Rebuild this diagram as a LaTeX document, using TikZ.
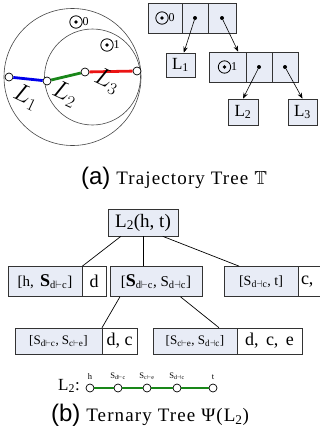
\documentclass[tikz,border=0pt]{standalone}
\usepackage{fontspec}
\usepackage{amssymb}
\setmainfont{Liberation Serif}
\setsansfont{Liberation Sans}
\usetikzlibrary{arrows.meta}

\definecolor{cellfill}{RGB}{232,236,246}
\definecolor{segblue}{RGB}{0,0,235}
\definecolor{seggreen}{RGB}{25,135,25}
\definecolor{segred}{RGB}{235,20,20}
\definecolor{ringgray}{RGB}{70,70,70}

\newcommand{\fsz}[1]{\fontsize{#1}{#1}\selectfont}
\newcommand{\sph}[1]{\tikz[baseline=-3.8pt]{\draw[line width=0.8pt] (0,0) circle (6.2pt); \fill (0,0) circle (1.8pt);}{\fsz{12}#1}}
\newcommand{\Sdl}{S\textsubscript{d$\vdash$c}}
\newcommand{\Sdr}{S\textsubscript{d$\dashv$c}}
\newcommand{\Sce}{S\textsubscript{c$\vdash$e}}
\newcommand{\bSdl}{{\bfseries\fsz{18}S}\textsubscript{d$\vdash$c}}

\begin{document}
\begin{tikzpicture}[x=1pt, y=-1pt,
  ring/.style={draw=ringgray, line width=0.6pt},
  seg/.style={line width=2.8pt},
  knot/.style={circle, draw=black, fill=white, line width=0.7pt, inner sep=0pt, minimum size=8pt},
  cell/.style={draw=black!80, fill=cellfill, line width=0.6pt, inner sep=0pt},
  wcell/.style={draw=black!80, fill=white, line width=0.6pt, inner sep=0pt},
  dotmark/.style={circle, fill=black, inner sep=0pt, minimum size=4pt},
  ptr/.style={-{Stealth[length=6pt,width=4.5pt]}, line width=0.6pt},
  link/.style={line width=0.7pt},
  caption/.style={font=\fsz{19}\addfontfeature{LetterSpace=6}}]
  \clip (0,0) rectangle (320,434);

  % (a) trajectory on two circles
  \draw[ring] (72.5,77) circle (68.5);
  \draw[ring] (92.5,77) circle (48);
  \node[knot] (p0) at (9,77) {};
  \node[knot] (p1) at (47,81) {};
  \node[knot] (p2) at (85,72) {};
  \node[knot] (p3) at (137,71) {};
  \draw[seg, segblue] (p0) -- (p1);
  \draw[seg, seggreen] (p1) -- (p2);
  \draw[seg, segred] (p2) -- (p3);
  \node[rotate=-25] (lab1) at (26,97) {\fsz{24}$L_1$};
  \node[rotate=-25] (lab2) at (65,94) {\fsz{24}$L_2$};
  \node[rotate=-25] (lab3) at (107,81) {\fsz{24}$L_3$};
  \node (c0) at (79,22) {\sph{0}};
  \node (c1) at (110,45) {\sph{1}};

  % (a) tree of records
  \node[cell, minimum width=34, minimum height=30] (r0a) at (165,18) {\sph{0}};
  \node[cell, minimum width=26, minimum height=30] (r0b) at (195,18) {};
  \node[cell, minimum width=28, minimum height=30] (r0c) at (222,18) {};
  \node[cell, minimum width=29, minimum height=24] (leaf1) at (180.5,65) {\fsz{17}L\textsubscript{1}};
  \node[cell, minimum width=37, minimum height=30] (r1a) at (227.5,67) {\sph{1}};
  \node[cell, minimum width=26, minimum height=30] (r1b) at (259,67) {};
  \node[cell, minimum width=26, minimum height=30] (r1c) at (285,67) {};
  \node[cell, minimum width=30, minimum height=26] (leaf2) at (243,112) {\fsz{17}L\textsubscript{2}};
  \node[cell, minimum width=29, minimum height=26] (leaf3) at (302.5,112) {\fsz{17}L\textsubscript{3}};
  \node[dotmark] (d0b) at (r0b) {};
  \node[dotmark] (d0c) at (r0c) {};
  \node[dotmark] (d1b) at (r1b) {};
  \node[dotmark] (d1c) at (r1c) {};
  \draw[ptr] (d0b) -- (leaf1.75);
  \draw[ptr] (d0c) -- (r1a.55);
  \draw[ptr] (d1b) -- (leaf2.north);
  \draw[ptr] (d1c) -- (leaf3.north);

  \node[caption] (capa) at (174,178) {{\sffamily\fsz{24}(a)} Trajectory Tree $\mathbb{T}$};

  % (b) ternary tree
  \node[cell, minimum width=70, minimum height=27] (root) at (143,222.5) {\fsz{19}L\textsubscript{2}(h, t)};
  \node[cell, minimum width=74, minimum height=30] (ka) at (45,281.5) {\fsz{15}[h,\, \bSdl]};
  \node[wcell, minimum width=24, minimum height=30] (ka2) at (94,281.5) {\fsz{18}d};
  \node[cell, minimum width=92, minimum height=30] (kb) at (156,281.5) {\fsz{15}[\bSdl, \Sdr]};
  \node[cell, minimum width=74, minimum height=30] (kc) at (261,281.5) {\fsz{14}[\Sdr, t]};
  \node[wcell, minimum width=32, minimum height=30, text width=26, align=left] (kc2) at (314,281.5) {\fsz{18}c,};
  \node[cell, minimum width=87, minimum height=26] (kd) at (58.5,341) {\fsz{13}[\Sdl, \Sce]};
  \node[wcell, minimum width=35, minimum height=26] (kd2) at (119.5,341) {\fsz{18}d, c};
  \node[cell, minimum width=84, minimum height=26] (ke) at (195,341) {\fsz{13}[\Sce, \Sdr]};
  \node[wcell, minimum width=65, minimum height=26] (ke2) at (269.5,341) {\fsz{18}d,\, c,\, e};
  \draw[link] (root.212) -- (ka.north east);
  \draw[link] (root.south) -- (root.south |- kb.north);
  \draw[link] (root.325) -- (kc.145);
  \draw[link] (kb.203) -- (kd.17);
  \draw[link] (kb.328) -- (ke.29);

  % L2 as a line of split points
  \node (ltag) at (69,386) {\fsz{17}L\textsubscript{2}:};
  \node[knot] (q0) at (90,388) {};
  \node[knot] (q1) at (118,388) {};
  \node[knot] (q2) at (147,388) {};
  \node[knot] (q3) at (177,388) {};
  \node[knot] (q4) at (213,388) {};
  \draw[seg, seggreen] (q0) -- (q1);
  \draw[seg, seggreen] (q1) -- (q2);
  \draw[seg, seggreen] (q2) -- (q3);
  \draw[seg, seggreen] (q3) -- (q4);
  \node[above=0.5pt] (t0) at (q0.north) {\fsz{8.5}h};
  \node[above=0.5pt] (t1) at (q1.north) {\fsz{8.5}\Sdl};
  \node[above=0.5pt] (t2) at (q2.north) {\fsz{8.5}\Sce};
  \node[above=0.5pt] (t3) at (q3.north) {\fsz{8.5}\Sdr};
  \node[above=0.5pt] (t4) at (q4.north) {\fsz{8.5}t};

  \node[caption] (capb) at (150,415) {{\sffamily\fsz{24}(b)} Ternary Tree Ψ(L\textsubscript{2})};
\end{tikzpicture}
\end{document}
